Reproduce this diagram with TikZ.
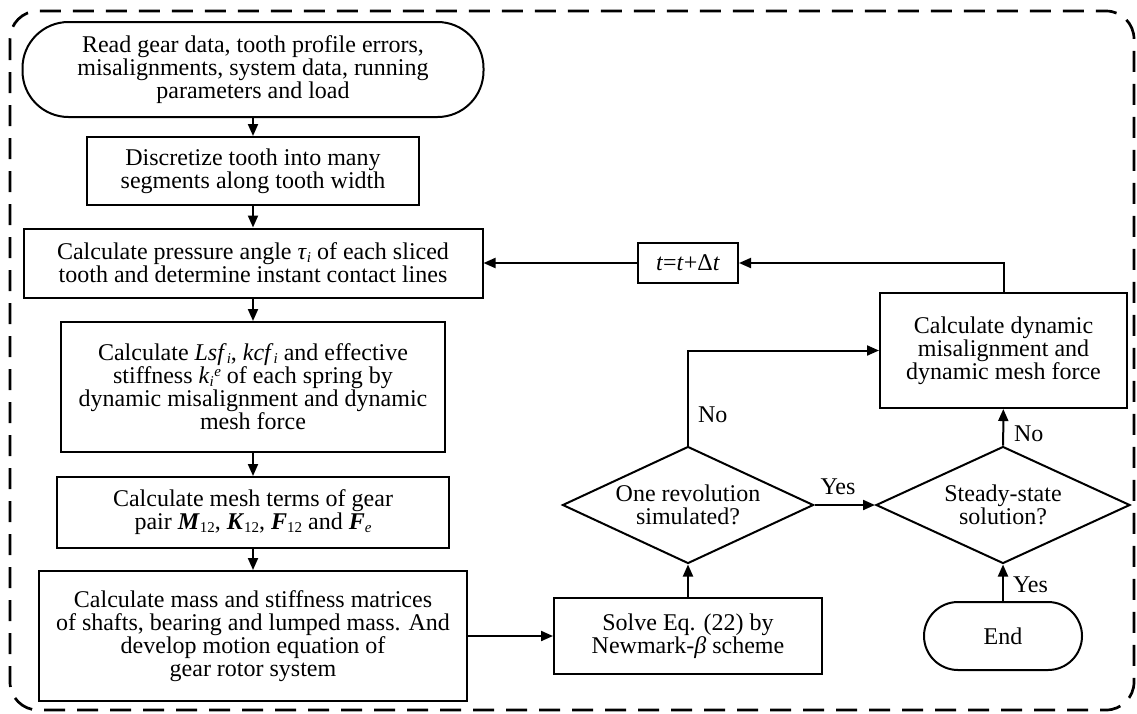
\documentclass[tikz,border=0pt]{standalone}
\usepackage{fontspec}
\setmainfont{Liberation Serif}
\usetikzlibrary{shapes.geometric}
\usetikzlibrary{arrows.meta}
\newcommand{\sbs}[1]{\raisebox{-0.1em}{\fontsize{15}{15}\selectfont #1}}
\newcommand{\sps}[1]{\raisebox{0.3em}{\fontsize{15}{15}\selectfont #1}}
\newcommand{\ivar}[2]{\textit{#1}\sbs{\textit{#2}}}
\newcommand{\bvar}[2]{\textbf{\textit{#1}}\sbs{#2}}
\tikzset{fcp/.style={
  x=1pt,
  y=-1pt,
  line width=2pt,
  font=\fontsize{24}{23}\selectfont
}}
\tikzset{fbx/.style={
  draw,
  fill=white,
  shape=rectangle,
  align=center,
  inner sep=0pt,
}}
\tikzset{trm/.style={fbx,rounded corners=#1}}
\tikzset{dcn/.style={
  draw,
  fill=white,
  shape=diamond,
  aspect=2,
  align=center,
  inner sep=0pt,
}}
\tikzset{arr/.style={-{Triangle[length=12pt,width=10pt]}}}
\tikzset{lbl/.style={inner sep=0pt}}

\begin{document}
\begin{tikzpicture}[fcp]
    \useasboundingbox (0,0) rectangle (1137,713);
    % Frame
    \draw[line width=2.7pt,dash pattern=on 21pt off 12pt,rounded corners=28pt]
      (10,11) rectangle (1134,710);
    % Left column
    \node[trm=46pt,minimum width=461pt,minimum height=95pt] (start) at (253,69.5)
      {Read gear data, tooth profile errors,\\misalignments, system data, running\\parameters and load};
    \node[fbx,minimum width=332pt,minimum height=68pt] (disc) at (253,171)
      {Discretize tooth into many\\segments along tooth width};
    \node[fbx,minimum width=459pt,minimum height=69pt] (press) at (253,263)
      {Calculate pressure angle \ivar{τ}{i} of each sliced\\tooth and determine instant contact lines};
    \node[fbx,minimum width=384pt,minimum height=130pt] (lsf) at (253,387)
      {Calculate \ivar{Lsf}{i}, \ivar{kcf}{i} and effective\\stiffness \textit{k}\sbs{\textit{i}}\kern0.5pt\sps{\textit{e}} of each spring by\\dynamic misalignment and dynamic\\mesh force};
    \node[fbx,minimum width=392pt,minimum height=71pt] (meshterm) at (253,512.5)
      {Calculate mesh terms of gear\\pair \bvar{M}{12}, \bvar{K}{12}, \bvar{F}{12} and \textbf{\textit{F}}\sbs{\textit{e}}};
    \node[fbx,minimum width=428pt,minimum height=130pt] (mass) at (253,636)
      {Calculate mass and stiffness matrices\\of shafts, bearing and lumped mass. And\\develop motion equation of\\gear rotor system};
    % Right part
    \node[fbx,minimum width=268pt,minimum height=76pt] (solve) at (688,636)
      {Solve Eq. (22) by\\Newmark-\textit{β} scheme};
    \node[dcn,minimum width=251pt,minimum height=117pt] (onerev) at (688,505)
      {One revolution\\simulated?};
    \node[dcn,minimum width=254pt,minimum height=117pt] (steady) at (1003,505)
      {Steady-state\\solution?};
    \node[trm=34pt,minimum width=158pt,minimum height=68pt] (end) at (1003,636) {End};
    \node[fbx,minimum width=247pt,minimum height=115pt] (dynmis) at (1003.5,350.5)
      {Calculate dynamic\\misalignment and\\dynamic mesh force};
    \node[fbx,minimum width=100pt,minimum height=40pt] (tstep) at (688,263)
      {\textit{t}=\textit{t}+Δ\textit{t}};
    % Labels
    \node[lbl,anchor=west] (nolbla) at (697,415) {No};
    \node[lbl] (yeslbla) at (838,487) {Yes};
    \node[lbl,anchor=west] (nolblb) at (1013,434) {No};
    \node[lbl,anchor=west] (yeslblb) at (1012,585) {Yes};
    % Connectors
    \draw[arr] (start) -- (disc);
    \draw[arr] (disc) -- (press);
    \draw[arr] (press) -- (lsf);
    \draw[arr] (lsf) -- (meshterm);
    \draw[arr] (meshterm) -- (mass);
    \draw[arr] (mass) -- (solve);
    \draw[arr] (solve) -- (onerev);
    \draw[arr] (onerev) -- (steady);
    \draw[arr] (onerev.north) |- (dynmis.west);
    \draw[arr] (end) -- (steady);
    \draw[arr] (steady) -- (dynmis);
    \draw[arr] (dynmis.north) |- (tstep.east);
    \draw[arr] (tstep) -- (press);
  \end{tikzpicture}
\end{document}
